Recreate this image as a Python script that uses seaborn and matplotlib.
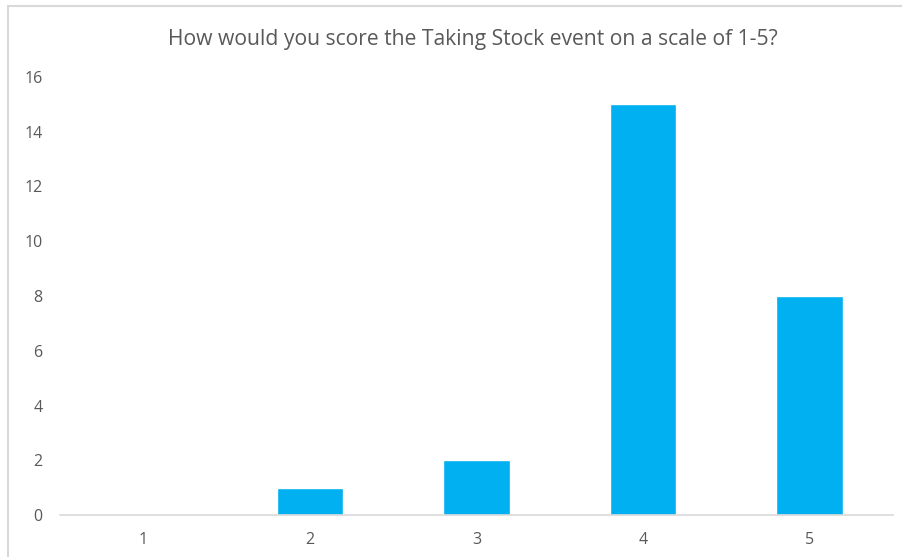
import matplotlib
matplotlib.use("Agg")
import matplotlib.pyplot as plt
import seaborn as sns
import pandas as pd
from matplotlib.lines import Line2D

categories = ["1", "2", "3", "4", "5"]
counts = [0, 1, 2, 15, 8]
title = "How would you score the Taking Stock event on a scale of 1-5?"

sns.set_theme(style="white")
plt.rcParams['font.family'] = ['Open Sans', 'DejaVu Sans']

W, H = 903, 557
fig = plt.figure(figsize=(W/100, H/100), dpi=100)
ax = fig.add_axes([60/W, 1-515/H, (893-60)/W, (515-77)/H])

df = pd.DataFrame({"score": categories, "count": counts})
sns.barplot(data=df, x="score", y="count", color="#00B0F0", saturation=1,
            width=0.4, ax=ax)

ax.set_xlim(-0.5, 4.5)
ax.set_ylim(0, 16)
ax.set_yticks(range(0, 17, 2))
ax.set_xlabel("")
ax.set_ylabel("")
for s in ["top", "right", "left"]:
    ax.spines[s].set_visible(False)
ax.spines["bottom"].set_color("#d9d9d9")
ax.spines["bottom"].set_linewidth(1.2)
ax.tick_params(axis="both", length=0, labelsize=11.5, colors="#595959")
ax.tick_params(axis="y", pad=12.5)
ax.tick_params(axis="x", pad=12)

fig.text(473/W, 1-40/H, title, ha="center", va="center",
         fontsize=15.2, color="#595959")

# chart border (left and top visible)
fig.add_artist(Line2D([8/W, 8/W], [0, 1-6/H], transform=fig.transFigure,
                      color="#d9d9d9", lw=1.5))
fig.add_artist(Line2D([8/W, 1], [1-6/H, 1-6/H], transform=fig.transFigure,
                      color="#d9d9d9", lw=1.5))

fig.savefig("out.png", dpi=100)
